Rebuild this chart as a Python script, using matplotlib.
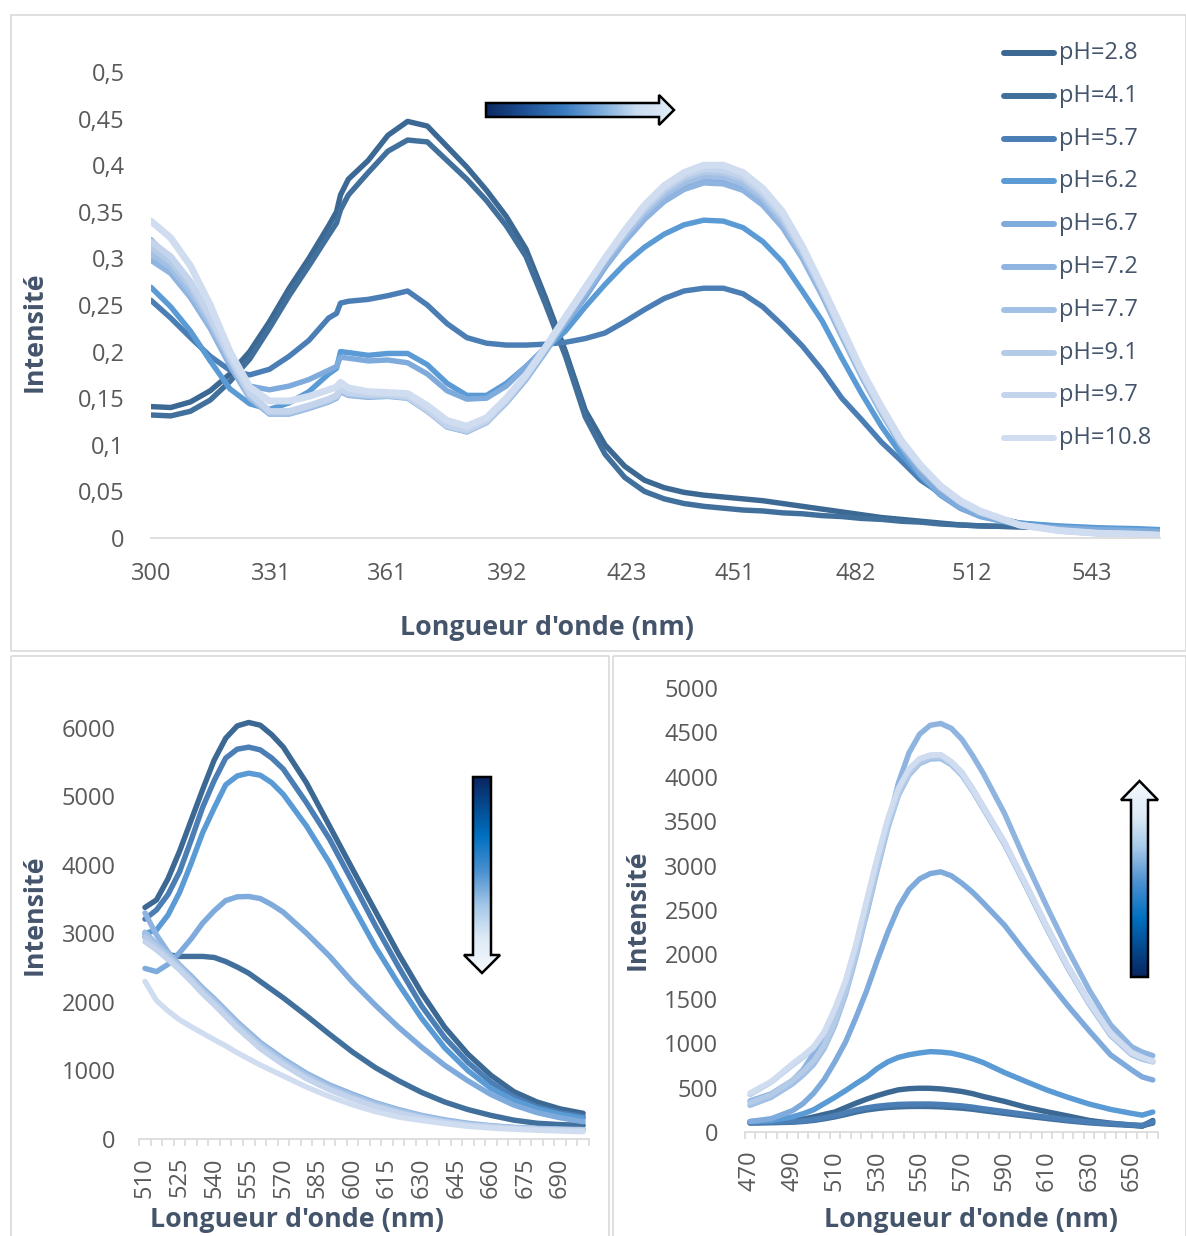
import numpy as np
import matplotlib
matplotlib.use('Agg')
import matplotlib.pyplot as plt
from matplotlib.patches import Polygon, Rectangle
from matplotlib.colors import LinearSegmentedColormap

plt.rcParams['font.family'] = ['Open Sans', 'DejaVu Sans']

W, H = 1186, 1236

# ---------------- data ----------------
ph_labels = ['pH=2.8', 'pH=4.1', 'pH=5.7', 'pH=6.2', 'pH=6.7',
             'pH=7.2', 'pH=7.7', 'pH=9.1', 'pH=9.7', 'pH=10.8']
colors = ['#3C6894', '#41709C', '#4A7EB5', '#5B9BD5', '#7FAADC',
          '#8FB4E0', '#A2C0E5', '#B4CBE8', '#C3D4EC', '#D0DDF0']

# top panel (absorption)
wl_top = [300, 305, 310, 315, 320, 325, 330, 335, 340, 345, 347, 348, 350, 355, 360,
          365, 370, 375, 380, 385, 390, 395, 400, 405, 410, 415, 420, 425, 430, 435,
          440, 445, 450, 455, 460, 465, 470, 475, 480, 485, 490, 495, 500, 505, 510,
          520, 530, 540, 550, 555.5]
top_tick_pos = [300, 330.4, 359.8, 390.2, 420.6, 448.0, 478.4, 507.8, 538.2]
top_tick_lab = ['300', '331', '361', '392', '423', '451', '482', '512', '543']
top_y_ticks = [0, 0.05, 0.1, 0.15, 0.2, 0.25, 0.3, 0.35, 0.4, 0.45, 0.5]
top_y_labs = ['0', '0,05', '0,1', '0,15', '0,2', '0,25', '0,3', '0,35', '0,4', '0,45', '0,5']

abs_28 = [0.141, 0.140, 0.146, 0.158, 0.176, 0.200, 0.232, 0.268, 0.300, 0.335, 0.350, 0.368, 0.385, 0.405, 0.432,
          0.447, 0.442, 0.420, 0.398, 0.373, 0.345, 0.310, 0.257, 0.200, 0.137, 0.100, 0.077, 0.062, 0.054, 0.049,
          0.046, 0.044, 0.042, 0.040, 0.037, 0.034, 0.031, 0.028, 0.025, 0.022, 0.020, 0.018, 0.016, 0.014, 0.013,
          0.012, 0.011, 0.010, 0.009, 0.008]
abs_41 = [0.132, 0.131, 0.136, 0.148, 0.168, 0.192, 0.225, 0.260, 0.292, 0.325, 0.338, 0.352, 0.368, 0.392, 0.415,
          0.427, 0.425, 0.405, 0.385, 0.362, 0.335, 0.302, 0.250, 0.195, 0.130, 0.090, 0.065, 0.050, 0.042, 0.037,
          0.034, 0.032, 0.030, 0.029, 0.027, 0.026, 0.024, 0.023, 0.021, 0.020, 0.018, 0.017, 0.015, 0.014, 0.013,
          0.012, 0.011, 0.010, 0.009, 0.008]
abs_57 = [0.255, 0.236, 0.215, 0.195, 0.180, 0.175, 0.181, 0.195, 0.212, 0.236, 0.241, 0.252, 0.254, 0.256, 0.260,
          0.265, 0.250, 0.230, 0.215, 0.209, 0.207, 0.207, 0.208, 0.210, 0.214, 0.220, 0.232, 0.245, 0.257, 0.265,
          0.268, 0.268, 0.262, 0.248, 0.228, 0.206, 0.180, 0.150, 0.127, 0.103, 0.083, 0.062, 0.048, 0.034, 0.026,
          0.016, 0.012, 0.010, 0.009, 0.008]
abs_62 = [0.269, 0.248, 0.222, 0.190, 0.160, 0.144, 0.138, 0.145, 0.157, 0.176, 0.182, 0.200, 0.199, 0.196, 0.198,
          0.198, 0.186, 0.166, 0.153, 0.153, 0.166, 0.184, 0.203, 0.222, 0.248, 0.272, 0.294, 0.312, 0.326, 0.336,
          0.341, 0.340, 0.333, 0.318, 0.296, 0.265, 0.233, 0.193, 0.155, 0.120, 0.090, 0.066, 0.046, 0.032, 0.024,
          0.016, 0.013, 0.011, 0.010, 0.009]
abs_67 = [0.320, 0.298, 0.265, 0.226, 0.186, 0.163, 0.159, 0.163, 0.170, 0.180, 0.184, 0.194, 0.193, 0.190, 0.191,
          0.188, 0.176, 0.158, 0.149, 0.150, 0.163, 0.184, 0.205, 0.230, 0.258, 0.290, 0.318, 0.342, 0.362, 0.375,
          0.383, 0.384, 0.377, 0.362, 0.340, 0.308, 0.270, 0.226, 0.180, 0.136, 0.098, 0.068, 0.047, 0.032, 0.023,
          0.014, 0.011, 0.009, 0.008, 0.007]
abs_72 = [0.298, 0.284, 0.258, 0.225, 0.185, 0.150, 0.133, 0.133, 0.139, 0.146, 0.150, 0.157, 0.153, 0.151, 0.152,
          0.150, 0.136, 0.119, 0.114, 0.124, 0.145, 0.170, 0.200, 0.232, 0.262, 0.292, 0.318, 0.342, 0.361, 0.374,
          0.381, 0.380, 0.373, 0.357, 0.333, 0.300, 0.260, 0.216, 0.173, 0.134, 0.100, 0.074, 0.053, 0.038, 0.027,
          0.014, 0.009, 0.006, 0.005, 0.004]
abs_77 = [0.305, 0.290, 0.264, 0.230, 0.190, 0.152, 0.134, 0.134, 0.140, 0.147, 0.151, 0.158, 0.154, 0.152, 0.153,
          0.151, 0.137, 0.120, 0.114, 0.124, 0.146, 0.172, 0.203, 0.235, 0.266, 0.297, 0.324, 0.348, 0.368, 0.381,
          0.388, 0.387, 0.380, 0.364, 0.339, 0.305, 0.264, 0.219, 0.176, 0.136, 0.101, 0.075, 0.054, 0.038, 0.027,
          0.014, 0.008, 0.005, 0.004, 0.003]
abs_91 = [0.312, 0.296, 0.270, 0.234, 0.193, 0.154, 0.135, 0.135, 0.141, 0.148, 0.152, 0.159, 0.155, 0.153, 0.153,
          0.151, 0.137, 0.120, 0.115, 0.125, 0.147, 0.173, 0.204, 0.236, 0.268, 0.299, 0.327, 0.352, 0.372, 0.386,
          0.393, 0.392, 0.385, 0.368, 0.343, 0.308, 0.266, 0.221, 0.177, 0.138, 0.102, 0.076, 0.055, 0.039, 0.028,
          0.014, 0.008, 0.005, 0.004, 0.003]
abs_97 = [0.318, 0.302, 0.275, 0.238, 0.195, 0.156, 0.136, 0.136, 0.142, 0.149, 0.153, 0.160, 0.156, 0.154, 0.154,
          0.152, 0.138, 0.121, 0.116, 0.126, 0.148, 0.174, 0.205, 0.237, 0.269, 0.300, 0.329, 0.354, 0.375, 0.389,
          0.396, 0.395, 0.388, 0.371, 0.346, 0.310, 0.268, 0.222, 0.178, 0.139, 0.103, 0.077, 0.055, 0.039, 0.028,
          0.014, 0.008, 0.005, 0.004, 0.003]
abs_108 = [0.340, 0.322, 0.292, 0.250, 0.200, 0.162, 0.147, 0.147, 0.152, 0.159, 0.162, 0.167, 0.161, 0.157, 0.156,
           0.155, 0.142, 0.126, 0.120, 0.129, 0.150, 0.175, 0.205, 0.237, 0.268, 0.300, 0.330, 0.357, 0.378, 0.392,
           0.400, 0.400, 0.392, 0.375, 0.350, 0.313, 0.270, 0.225, 0.180, 0.141, 0.105, 0.078, 0.056, 0.040, 0.029,
           0.014, 0.008, 0.005, 0.004, 0.003]
top_series = [abs_28, abs_41, abs_57, abs_62, abs_67, abs_72, abs_77, abs_91, abs_97, abs_108]

# bottom-left panel (emission)
wl_bl = [510, 515, 520, 525, 530, 535, 540, 545, 550, 555, 560, 565, 570,
         580, 590, 600, 610, 620, 630, 640, 650, 660, 670, 680, 690, 700]
bl_tick_lab = [510, 525, 540, 555, 570, 585, 600, 615, 630, 645, 660, 675, 690]
bl_y_ticks = [0, 1000, 2000, 3000, 4000, 5000, 6000]
em_bl_28 = [3380, 3490, 3800, 4200, 4650, 5100, 5530, 5850, 6030, 6080, 6040, 5900, 5720,
            5200, 4570, 3940, 3320, 2700, 2130, 1630, 1240, 930, 690, 540, 440, 375]
em_bl_41 = [2950, 2780, 2690, 2665, 2665, 2665, 2650, 2590, 2510, 2420, 2300, 2180, 2060,
            1800, 1530, 1270, 1040, 850, 680, 540, 430, 345, 275, 230, 210, 200]
em_bl_57 = [3210, 3343, 3570, 3900, 4360, 4840, 5230, 5560, 5690, 5720, 5680, 5560, 5400,
            4910, 4380, 3750, 3110, 2510, 1940, 1480, 1120, 830, 612, 470, 385, 326]
em_bl_62 = [3000, 3050, 3270, 3600, 4020, 4470, 4830, 5170, 5300, 5340, 5310, 5200, 5030,
            4570, 4030, 3410, 2800, 2260, 1760, 1330, 1000, 740, 565, 440, 360, 302]
em_bl_67 = [2490, 2443, 2550, 2720, 2920, 3150, 3330, 3480, 3535, 3540, 3510, 3420, 3310,
            3005, 2670, 2290, 1950, 1630, 1340, 1075, 850, 650, 495, 385, 310, 253]
em_bl_72 = [3300, 2980, 2730, 2540, 2380, 2205, 2050, 1880, 1710, 1560, 1410, 1290, 1170,
            960, 790, 655, 530, 430, 345, 280, 230, 195, 170, 155, 145, 138]
em_bl_77 = [3020, 2850, 2700, 2530, 2360, 2180, 2025, 1855, 1685, 1535, 1385, 1265, 1145,
            935, 768, 632, 512, 416, 332, 267, 221, 188, 166, 151, 141, 132]
em_bl_91 = [2950, 2810, 2660, 2500, 2330, 2150, 1995, 1825, 1655, 1505, 1355, 1235, 1115,
            905, 740, 605, 488, 395, 315, 254, 211, 180, 160, 146, 137, 129]
em_bl_97 = [2880, 2760, 2620, 2470, 2300, 2120, 1960, 1790, 1620, 1470, 1320, 1200, 1085,
            880, 718, 585, 470, 380, 303, 245, 204, 175, 155, 142, 133, 125]
em_bl_108 = [2300, 2020, 1870, 1740, 1640, 1545, 1450, 1360, 1260, 1170, 1080, 1000, 920,
             760, 620, 500, 400, 320, 270, 225, 185, 160, 142, 128, 117, 107]
bl_series = [em_bl_28, em_bl_41, em_bl_57, em_bl_62, em_bl_67,
             em_bl_72, em_bl_77, em_bl_91, em_bl_97, em_bl_108]

# bottom-right panel (emission)
wl_br = [470, 480, 490, 495, 500, 505, 510, 515, 520, 525, 530, 535, 540, 545, 550,
         555, 560, 565, 570, 575, 580, 590, 600, 610, 620, 630, 640, 650, 655, 660]
br_tick_lab = [470, 490, 510, 530, 550, 570, 590, 610, 630, 650]
br_y_ticks = [0, 500, 1000, 1500, 2000, 2500, 3000, 3500, 4000, 4500, 5000]
em_br_28 = [116, 122, 132, 145, 170, 198, 225, 275, 325, 370, 410, 445, 475, 488, 493,
            492, 485, 472, 456, 432, 400, 345, 280, 228, 180, 130, 100, 78, 65, 130]
em_br_41 = [100, 104, 110, 118, 130, 148, 170, 196, 225, 248, 264, 276, 283, 287, 288,
            287, 283, 276, 268, 256, 240, 210, 180, 152, 125, 103, 87, 74, 70, 100]
em_br_57 = [105, 110, 115, 125, 140, 160, 185, 215, 248, 272, 290, 302, 311, 314, 315,
            315, 310, 302, 294, 280, 262, 230, 198, 167, 137, 112, 95, 80, 75, 115]
em_br_62 = [117, 128, 170, 205, 250, 320, 390, 465, 545, 620, 715, 790, 840, 870, 890,
            905, 900, 888, 860, 825, 782, 670, 570, 473, 390, 315, 255, 210, 190, 225]
em_br_67 = [118, 150, 240, 320, 436, 590, 790, 1010, 1290, 1590, 1930, 2250, 2530, 2730, 2850,
            2910, 2930, 2885, 2800, 2700, 2580, 2330, 2020, 1720, 1420, 1140, 870, 700, 620, 586]
em_br_72 = [350, 430, 580, 700, 886, 1100, 1360, 1660, 2040, 2460, 2960, 3450, 3930, 4270, 4480,
            4580, 4600, 4545, 4420, 4240, 4040, 3590, 3050, 2540, 2050, 1600, 1210, 960, 900, 860]
em_br_77 = [300, 390, 540, 640, 760, 940, 1200, 1540, 1970, 2460, 2950, 3420, 3790, 4020, 4150,
            4200, 4205, 4135, 4015, 3840, 3640, 3240, 2770, 2290, 1840, 1440, 1090, 870, 820, 790]
em_br_91 = [330, 420, 580, 680, 800, 980, 1240, 1580, 2010, 2500, 2990, 3450, 3810, 4040, 4170,
            4220, 4225, 4150, 4030, 3850, 3650, 3250, 2780, 2300, 1850, 1450, 1100, 880, 830, 800]
em_br_97 = [420, 560, 750, 840, 950, 1110, 1370, 1680, 2100, 2590, 3070, 3510, 3860, 4080, 4200,
            4245, 4245, 4170, 4050, 3870, 3670, 3270, 2800, 2320, 1870, 1470, 1120, 900, 845, 790]
em_br_108 = [440, 570, 770, 860, 962, 1130, 1390, 1700, 2120, 2610, 3090, 3530, 3870, 4090, 4205,
             4240, 4250, 4165, 4040, 3860, 3660, 3260, 2790, 2310, 1860, 1460, 1110, 890, 840, 800]
br_series = [em_br_28, em_br_41, em_br_57, em_br_62, em_br_67,
             em_br_72, em_br_77, em_br_91, em_br_97, em_br_108]

# ---------------- styling ----------------
TICK_C = '#595959'
TITLE_C = '#44546A'
GRID_C = '#D9D9D9'
TICK_FS = 17
TITLE_FS = 19.3
top_lw = [3.9, 3.9, 3.9, 3.9, 3.9, 4.0, 4.2, 4.4, 4.6, 5.0]
bot_lw = 3.9

fig = plt.figure(figsize=(W / 100, H / 100), dpi=100)


def px_axes(l, t, r, b):
    return fig.add_axes([l / W, 1 - b / H, (r - l) / W, (b - t) / H])


def style(ax):
    for s in ['top', 'right', 'left']:
        ax.spines[s].set_visible(False)
    ax.spines['bottom'].set_color(GRID_C)
    ax.spines['bottom'].set_linewidth(1.2)
    ax.patch.set_alpha(0)


# ---- top ----
ax1 = px_axes(151, 72, 1160, 538)
style(ax1)
for ys, c, lw in zip(top_series, colors, top_lw):
    ax1.plot(wl_top, ys, color=c, lw=lw, solid_capstyle='round', solid_joinstyle='round')
ax1.set_xlim(300, 555.6)
ax1.set_ylim(0, 0.5)
ax1.set_xticks(top_tick_pos)
ax1.set_xticklabels(top_tick_lab)
ax1.set_yticks(top_y_ticks)
ax1.set_yticklabels(top_y_labs)
ax1.tick_params(axis='x', length=0, pad=17, labelsize=TICK_FS, labelcolor=TICK_C)
ax1.tick_params(axis='y', length=0, pad=19, labelsize=TICK_FS, labelcolor=TICK_C)

# ---- bottom left ----
ax2 = px_axes(139.2, 707.4, 588.9, 1139)
style(ax2)
for ys, c in zip(bl_series, colors):
    ax2.plot(wl_bl, ys, color=c, lw=bot_lw, solid_capstyle='round', solid_joinstyle='round')
ax2.set_xlim(507.5, 702.5)
ax2.set_ylim(0, 6300)
ax2.set_xticks(bl_tick_lab)
ax2.set_xticklabels([str(v) for v in bl_tick_lab], rotation=90)
ax2.set_xticks(np.arange(507.5, 703, 5), minor=True)
ax2.set_yticks(bl_y_ticks)
ax2.tick_params(axis='x', which='major', length=0, pad=13, labelsize=TICK_FS, labelcolor=TICK_C)
ax2.tick_params(axis='x', which='minor', length=5, width=1.2, color=GRID_C)
ax2.tick_params(axis='y', length=0, pad=17, labelsize=TICK_FS, labelcolor=TICK_C)

# ---- bottom right ----
ax3 = px_axes(744.7, 688, 1158.1, 1132)
style(ax3)
for ys, c in zip(br_series, colors):
    ax3.plot(wl_br, ys, color=c, lw=bot_lw, solid_capstyle='round', solid_joinstyle='round')
ax3.set_xlim(467.5, 662.5)
ax3.set_ylim(0, 5000)
ax3.set_xticks(br_tick_lab)
ax3.set_xticklabels([str(v) for v in br_tick_lab], rotation=90)
ax3.set_xticks(np.arange(467.5, 663, 5), minor=True)
ax3.set_yticks(br_y_ticks)
ax3.tick_params(axis='x', which='major', length=0, pad=13, labelsize=TICK_FS, labelcolor=TICK_C)
ax3.tick_params(axis='x', which='minor', length=5, width=1.2, color=GRID_C)
ax3.tick_params(axis='y', length=0, pad=19, labelsize=TICK_FS, labelcolor=TICK_C)

# ---------------- overlay (pixel coordinates) ----------------
ov = fig.add_axes([0, 0, 1, 1], zorder=10)
ov.patch.set_alpha(0)
ov.axis('off')


def reset_ov():
    ov.set_xlim(0, W)
    ov.set_ylim(H, 0)


reset_ov()

# panel borders
for (x0, y0, x1, y1) in [(10.5, 14.5, 1185.5, 650.5), (10.5, 655.5, 608.5, 1240),
                         (612.5, 655.5, 1185.5, 1240)]:
    ov.add_patch(Rectangle((x0, y0), x1 - x0, y1 - y0, fill=False,
                           edgecolor=GRID_C, lw=1.2))

# axis titles
ov.text(547, 628, "Longueur d'onde (nm)", ha='center', va='center',
        fontsize=TITLE_FS, fontweight='bold', color=TITLE_C)
ov.text(35, 332, 'Intensité', ha='center', va='center', rotation=90,
        fontsize=TITLE_FS, fontweight='bold', color=TITLE_C)
ov.text(297, 1220, "Longueur d'onde (nm)", ha='center', va='center',
        fontsize=TITLE_FS, fontweight='bold', color=TITLE_C)
ov.text(35, 915, 'Intensité', ha='center', va='center', rotation=90,
        fontsize=TITLE_FS, fontweight='bold', color=TITLE_C)
ov.text(971, 1220, "Longueur d'onde (nm)", ha='center', va='center',
        fontsize=TITLE_FS, fontweight='bold', color=TITLE_C)
ov.text(638, 910, 'Intensité', ha='center', va='center', rotation=90,
        fontsize=TITLE_FS, fontweight='bold', color=TITLE_C)

# legend (top panel)
for i, (lab, c) in enumerate(zip(ph_labels, colors)):
    y = 53 + i * 42.8
    ov.plot([1004, 1054], [y, y], color=c, lw=4.3, solid_capstyle='round')
    ov.text(1059, y, lab, ha='left', va='center', fontsize=TICK_FS, color=TITLE_C)

# gradient arrows
cm_h = LinearSegmentedColormap.from_list('h', [(0, '#0A2A62'), (0.2, '#1D4F93'), (0.42, '#3A7CC0'),
                                               (0.62, '#7FAEDD'), (0.8, '#C9DCF0'), (1, '#E2ECF7')])
cm_v = LinearSegmentedColormap.from_list('v', [(0, '#0A2560'), (0.3, '#0070C0'), (0.48, '#4A90D0'),
                                               (0.66, '#A6C8E8'), (0.82, '#DDEAF6'), (1, '#F5F9FD')])


def grad_arrow(pts, cmap, vertical=False, reverse=False):
    xs, ys = zip(*pts)
    x0, x1, y0, y1 = min(xs), max(xs), min(ys), max(ys)
    g = np.linspace(0, 1, 256)
    g = g.reshape(-1, 1) if vertical else g.reshape(1, -1)
    if reverse:
        g = 1 - g
    im = ov.imshow(g, cmap=cmap, extent=(x0, x1, y1, y0), origin='upper',
                   aspect='auto', zorder=11, interpolation='bilinear')
    clip = Polygon(pts, closed=True, transform=ov.transData)
    im.set_clip_path(clip)
    ov.add_patch(Polygon(pts, closed=True, fill=False, edgecolor='black',
                         lw=1.8, joinstyle='miter', zorder=12))
    reset_ov()


grad_arrow([(486, 103), (659, 103), (659, 95), (674, 110), (659, 125), (659, 117), (486, 117)], cm_h)
grad_arrow([(473, 777), (491, 777), (491, 955), (500, 955), (482, 973), (464, 955), (473, 955)],
           cm_v, vertical=True)
grad_arrow([(1131, 977), (1148, 977), (1148, 800), (1158, 800), (1139.5, 781), (1121, 800), (1131, 800)],
           cm_v, vertical=True, reverse=True)

fig.savefig('out.png', dpi=100)
